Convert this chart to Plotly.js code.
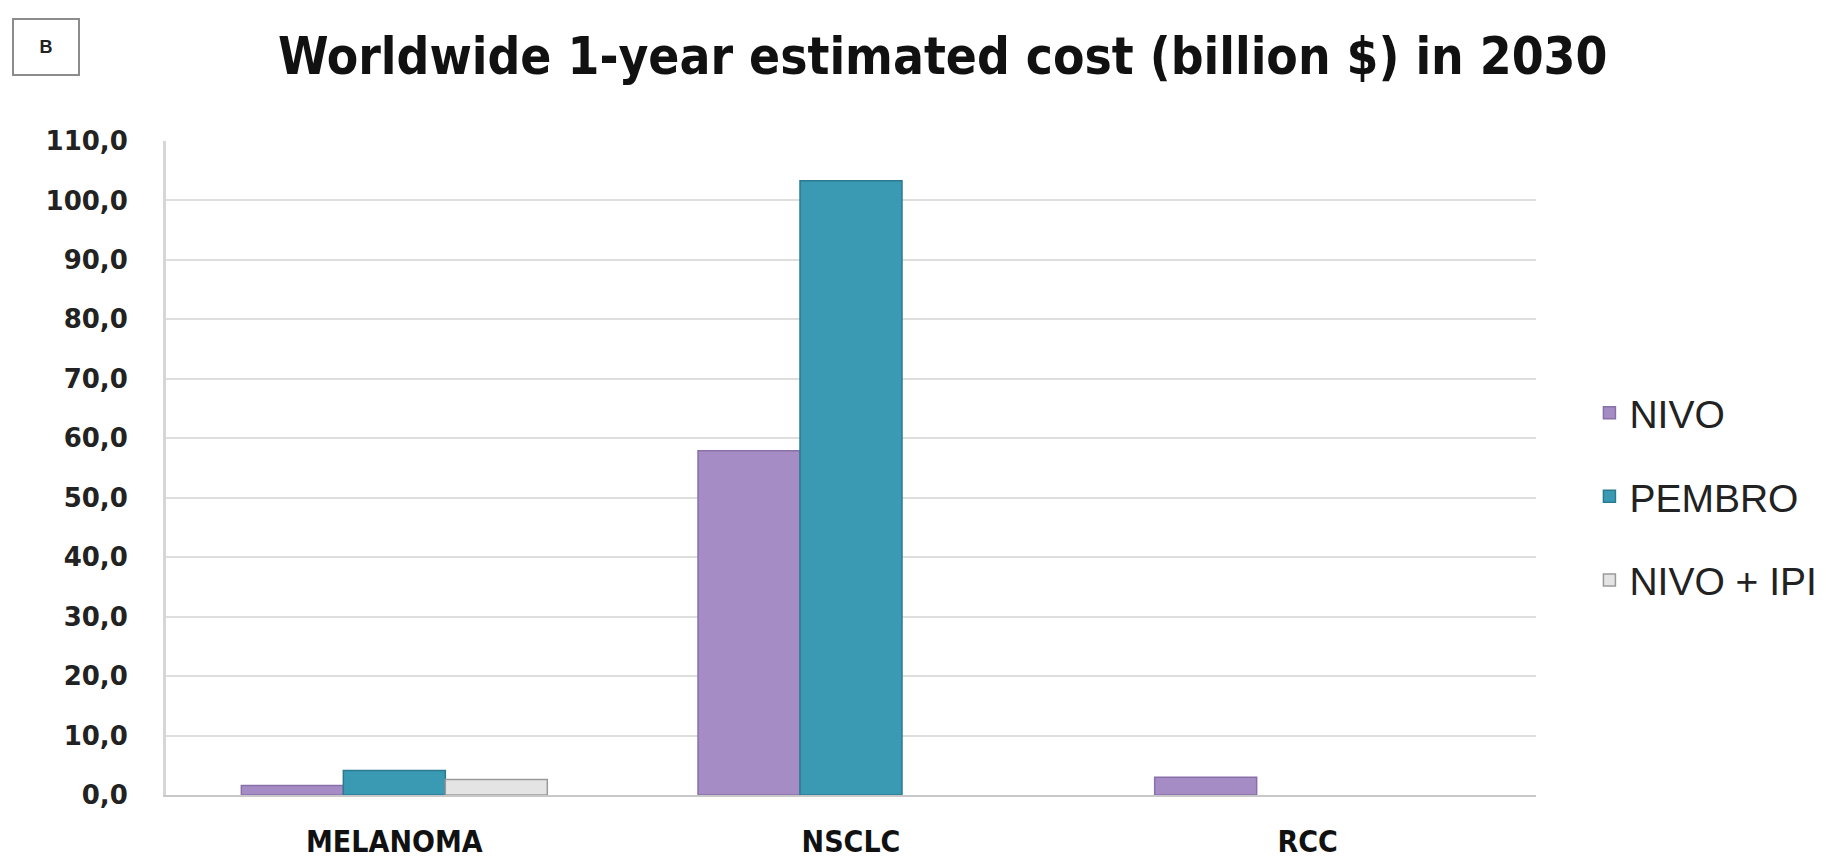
<!DOCTYPE html>
<html>
<head>
<meta charset="utf-8">
<script src="https://cdn.plot.ly/plotly-3.0.1.min.js"></script>
<style>
  html, body { margin: 0; padding: 0; background: #ffffff; }
  #chart { width: 1834px; height: 864px; }
</style>
</head>
<body>
<div id="chart"></div>
<script>
// Estimated worldwide 1-year cost in 2030, billion $
const categories = ["MELANOMA", "NSCLC", "RCC"];
const nivo = [1.6, 57.9, 3.0];
const pembro = [4.1, 103.3, null];
const nivoIpi = [2.6, null, null];
const seriesNames = ["NIVO", "PEMBRO", "NIVO + IPI"];
const yTicks = [0, 10, 20, 30, 40, 50, 60, 70, 80, 90, 100, 110];

const seriesColors = ["#a68cc4", "#3a9ab4", "#e4e4e4"];
const edgeColors = ["#8a70a8", "#2a7a90", "#9a9a9a"];
const seriesValues = [nivo, pembro, nivoIpi];

const traces = seriesValues.map((vals, i) => ({
  type: "bar",
  name: seriesNames[i],
  x: categories,
  y: vals,
  legendgroup: "g" + i,
  marker: { color: seriesColors[i], line: { color: edgeColors[i], width: 1.5 } },
  hoverinfo: "x+y+name"
}));

const narrow = "Liberation Sans Narrow, DejaVu Sans Condensed, Liberation Sans, Arial, sans-serif";

const layout = {
  width: 1834,
  height: 864,
  paper_bgcolor: "#ffffff",
  plot_bgcolor: "#ffffff",
  separators: ",.",
  margin: { l: 166, r: 298, t: 141, b: 69, autoexpand: false },
  barmode: "group",
  bargap: 0.33,
  bargroupgap: 0,
  title: {
    text: "<b>Worldwide 1-year estimated cost (billion $) in 2030</b>",
    font: { family: narrow, size: 51, color: "#111111" },
    xref: "container", yref: "container",
    x: 0.514, y: 0.935, xanchor: "center", yanchor: "middle"
  },
  xaxis: {
    type: "category",
    tickfont: { family: narrow, size: 30, color: "#111111", weight: "bold" },
    showgrid: false,
    showline: true,
    linecolor: "#c8c8c8",
    linewidth: 2,
    ticks: "",
    ticklabelstandoff: 19,
    fixedrange: true
  },
  yaxis: {
    range: [0, 110],
    tickvals: yTicks,
    tickformat: ".1f",
    tickfont: { family: "DejaVu Sans, Verdana, sans-serif", size: 26, color: "#222222", weight: "bold" },
    showgrid: true,
    gridcolor: "#dedede",
    gridwidth: 2,
    showline: true,
    linecolor: "#d6d6d6",
    linewidth: 3,
    zeroline: false,
    ticks: "",
    ticklabelstandoff: 30,
    fixedrange: true
  },
  legend: {
    x: 1.039, xanchor: "left",
    y: 0.456, yanchor: "middle",
    traceorder: "grouped",
    tracegroupgap: 30,
    itemwidth: 30,
    font: { family: "Liberation Sans, Arial, sans-serif", size: 39, color: "#222222" },
    bgcolor: "rgba(0,0,0,0)"
  },
  annotations: [{
    text: "<b>B</b>",
    xref: "paper", yref: "paper",
    x: (46 - 166) / 1370, y: (795 - 47) / 654,
    xanchor: "center", yanchor: "middle",
    showarrow: false,
    font: { family: "Liberation Sans, Arial, sans-serif", size: 18, color: "#222222" },
    width: 62, height: 52,
    bordercolor: "#8c8c8c", borderwidth: 2,
    bgcolor: "#ffffff"
  }]
};

Plotly.newPlot("chart", traces, layout, { displayModeBar: false });
</script>
</body>
</html>
